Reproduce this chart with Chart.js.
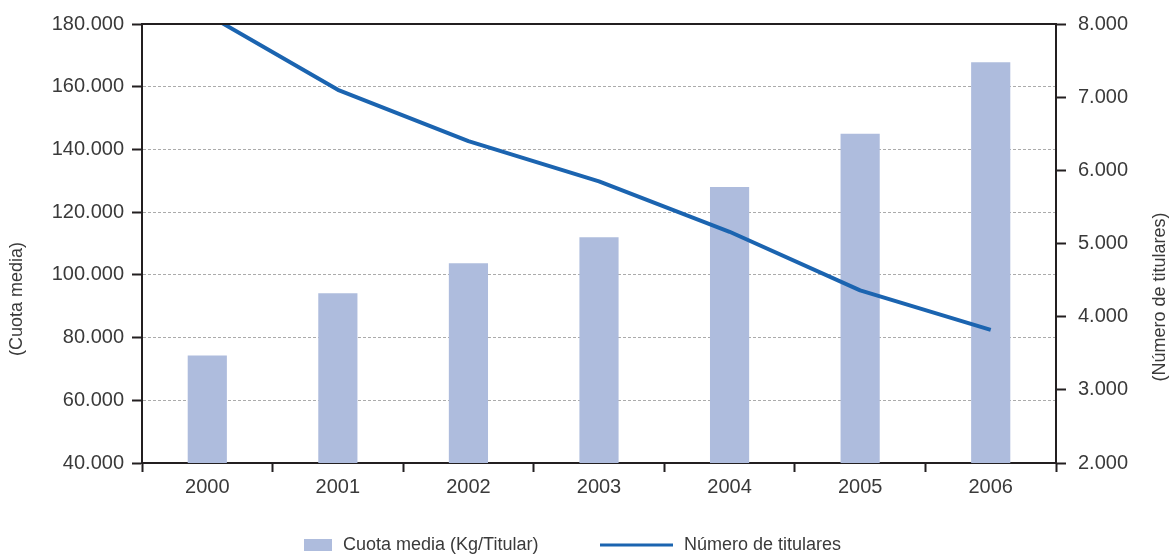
<!DOCTYPE html>
<html>
<head>
<meta charset="utf-8">
<script src="https://cdn.jsdelivr.net/npm/chart.js@4/dist/chart.umd.min.js"></script>
<style>
  html, body { margin: 0; padding: 0; background: #ffffff; }
  #wrap { width: 1170px; height: 554px; position: relative; }
</style>
</head>
<body>
<div id="wrap"><canvas id="c" width="1170" height="554"></canvas></div>
<script>
// ---- data ----
const years = ['2000', '2001', '2002', '2003', '2004', '2005', '2006'];
const cuotaMedia = [74300, 94100, 103700, 112000, 128000, 145000, 167800];
const numeroTitulares = [8130, 7100, 6400, 5850, 5160, 4360, 3820];
const leftAxisRange = [40000, 180000, 20000];   // min, max, step
const rightAxisRange = [2000, 8000, 1000];      // min, max, step
const seriesNames = ['Cuota media (Kg/Titular)', 'Número de titulares'];
const axisTitles = ['(Cuota media)', '(Número de titulares)'];

// ---- styles ----
const FONT = '"Liberation Sans", Arial, sans-serif';
const TEXT = '#3a3a3a';
const AXIS = '#231f20';
const BAR = '#aebcdd';
const LINE = '#1b64b0';
const GRID = '#ababab';

const fmt = v => String(v).replace(/\B(?=(\d{3})+(?!\d))/g, '.');

const decor = {
  id: 'decor',
  afterDraw(chart) {
    const ctx = chart.ctx;
    const a = chart.chartArea;
    ctx.save();
    // top frame line
    ctx.strokeStyle = AXIS;
    ctx.lineWidth = 2;
    ctx.beginPath();
    ctx.moveTo(a.left - 1, a.top);
    ctx.lineTo(a.right + 1, a.top);
    ctx.stroke();

    // axis titles (both read bottom-to-top)
    ctx.fillStyle = TEXT;
    ctx.font = '18px ' + FONT;
    ctx.textAlign = 'center';
    ctx.textBaseline = 'middle';
    ctx.save();
    ctx.translate(17, 299);
    ctx.rotate(-Math.PI / 2);
    ctx.fillText(axisTitles[0], 0, 0);
    ctx.restore();
    ctx.save();
    ctx.translate(1160, 297);
    ctx.rotate(-Math.PI / 2);
    ctx.fillText(axisTitles[1], 0, 0);
    ctx.restore();

    // legend
    const ly = 545;
    ctx.fillStyle = BAR;
    ctx.fillRect(304, ly - 6, 28, 12);
    ctx.strokeStyle = LINE;
    ctx.lineWidth = 3;
    ctx.beginPath();
    ctx.moveTo(600, ly);
    ctx.lineTo(673, ly);
    ctx.stroke();
    ctx.fillStyle = TEXT;
    ctx.textAlign = 'left';
    ctx.textBaseline = 'middle';
    ctx.font = '18px ' + FONT;
    ctx.fillText(chart.data.datasets[0].label, 343, ly);
    ctx.fillText(chart.data.datasets[1].label, 684, ly);
    ctx.restore();
  }
};

new Chart(document.getElementById('c'), {
  data: {
    labels: years,
    datasets: [
      {
        type: 'bar',
        label: seriesNames[0],
        data: cuotaMedia,
        yAxisID: 'y',
        backgroundColor: BAR,
        borderWidth: 0,
        barPercentage: 0.3,
        categoryPercentage: 1.0,
        order: 1
      },
      {
        type: 'line',
        label: seriesNames[1],
        data: numeroTitulares,
        yAxisID: 'y1',
        borderColor: LINE,
        borderWidth: 4,
        pointRadius: 0,
        tension: 0,
        fill: false,
        clip: 0,
        borderJoinStyle: 'round',
        order: 0
      }
    ]
  },
  options: {
    responsive: false,
    animation: false,
    devicePixelRatio: 1,
    layout: { padding: { top: 24, left: 0, right: 0, bottom: 0 } },
    plugins: { legend: { display: false }, tooltip: { enabled: false } },
    scales: {
      x: {
        type: 'category',
        grid: { drawOnChartArea: false, drawTicks: true, tickLength: 9, tickColor: AXIS, tickWidth: 2, offset: true },
        border: { display: true, color: AXIS, width: 2 },
        ticks: { font: { family: FONT, size: 20 }, color: TEXT, padding: 3, maxRotation: 0 },
        afterFit: s => { s.height = 91; }
      },
      y: {
        position: 'left',
        min: leftAxisRange[0],
        max: leftAxisRange[1],
        ticks: { stepSize: leftAxisRange[2], callback: v => fmt(v), font: { family: FONT, size: 20 }, color: TEXT, padding: 8 },
        grid: {
          color: c => (c.tick && (c.tick.value === leftAxisRange[0] || c.tick.value === leftAxisRange[1])) ? 'rgba(0,0,0,0)' : GRID,
          lineWidth: 1,
          tickColor: AXIS,
          tickWidth: 2,
          tickLength: 10
        },
        border: { display: true, color: AXIS, width: 2, dash: [3, 2] },
        afterFit: s => { s.width = 142; }
      },
      y1: {
        position: 'right',
        min: rightAxisRange[0],
        max: rightAxisRange[1],
        ticks: { stepSize: rightAxisRange[2], callback: v => fmt(v), font: { family: FONT, size: 20 }, color: TEXT, padding: 12 },
        grid: { drawOnChartArea: false, tickColor: AXIS, tickWidth: 2, tickLength: 10 },
        border: { display: true, color: AXIS, width: 2 },
        afterFit: s => { s.width = 114; }
      }
    }
  },
  plugins: [decor]
});
</script>
</body>
</html>
